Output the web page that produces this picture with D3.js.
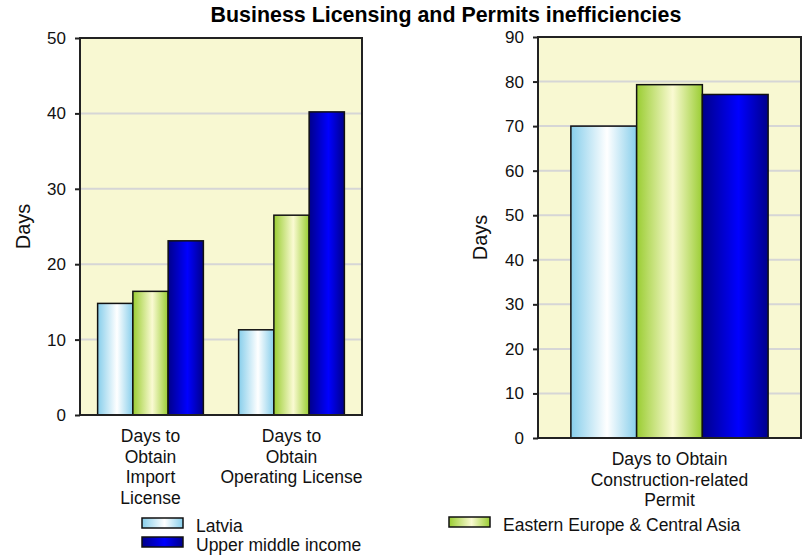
<!DOCTYPE html>
<html>
<head>
<meta charset="utf-8">
<script src="https://cdn.jsdelivr.net/npm/d3@7/dist/d3.min.js"></script>
<style>
  html, body { margin: 0; padding: 0; background: #fff; }
  svg { display: block; }
</style>
</head>
<body>
<svg id="chart" width="806" height="557"></svg>
<script>
// Series names and their two-chart values (days)
const seriesNames = ["Latvia", "Eastern Europe & Central Asia", "Upper middle income"];

const leftCategories = ["Days to\nObtain\nImport\nLicense", "Days to\nObtain\nOperating License"];
const leftLatvia = [14.8, 11.3];
const leftEECA = [16.4, 26.5];
const leftUMI = [23.1, 40.2];
const leftTicks = [0, 10, 20, 30, 40, 50];

const rightCategories = ["Days to Obtain\nConstruction-related\nPermit"];
const rightLatvia = [70];
const rightEECA = [79.3];
const rightUMI = [77.1];
const rightTicks = [0, 10, 20, 30, 40, 50, 60, 70, 80, 90];

const titleText = "Business Licensing and Permits inefficiencies";
const axisTitle = "Days";

// Bar fills: edge colour, centre highlight
const gradients = [
  { id: "g-latvia", edge: "#87CEEB", mid: "#ffffff" },
  { id: "g-eeca", edge: "#9ACD32", mid: "#FAFAD2" },
  { id: "g-umi", edge: "#00008B", mid: "#0000FF" }
];

const svg = d3.select("#chart");
const defs = svg.append("defs");
gradients.forEach(g => {
  const lg = defs.append("linearGradient").attr("id", g.id)
    .attr("x1", "0%").attr("x2", "100%").attr("y1", "0%").attr("y2", "0%");
  lg.append("stop").attr("offset", "0%").attr("stop-color", g.edge);
  lg.append("stop").attr("offset", "55%").attr("stop-color", g.mid);
  lg.append("stop").attr("offset", "100%").attr("stop-color", g.edge);
});

const FONT = "'Liberation Sans', Arial, sans-serif";

svg.append("text")
  .attr("x", 446).attr("y", 22)
  .attr("text-anchor", "middle")
  .attr("font-family", FONT)
  .attr("font-weight", "bold")
  .attr("font-size", 21.4)
  .attr("fill", "#000")
  .text(titleText);

function drawPanel(opts) {
  const { left, right, top, bottom, max, ticks, categories, values } = opts;
  const g = svg.append("g");

  const y = d3.scaleLinear().domain([0, max]).range([bottom, top]);
  const x0 = d3.scaleBand().domain(categories).range([left, right])
    .paddingInner(0.25).paddingOuter(0.125);
  const x1 = d3.scaleBand().domain(d3.range(seriesNames.length))
    .range([0, x0.bandwidth()]).padding(0);

  // plot background
  g.append("rect")
    .attr("x", left).attr("y", top)
    .attr("width", right - left).attr("height", bottom - top)
    .attr("fill", "#F8F8D2");

  // horizontal grid
  g.selectAll("line.grid")
    .data(ticks.filter(t => t > 0 && t < max))
    .join("line")
    .attr("class", "grid")
    .attr("x1", left).attr("x2", right)
    .attr("y1", d => y(d)).attr("y2", d => y(d))
    .attr("stroke", "#d6d6d6").attr("stroke-width", 2);

  // bars
  categories.forEach((c, ci) => {
    values.forEach((vals, si) => {
      g.append("rect")
        .attr("x", x0(c) + x1(si))
        .attr("y", y(vals[ci]))
        .attr("width", x1.bandwidth())
        .attr("height", y(0) - y(vals[ci]))
        .attr("fill", `url(#${gradients[si].id})`)
        .attr("stroke", "#111").attr("stroke-width", 1.5);
    });
  });

  // frame
  g.append("rect")
    .attr("x", left).attr("y", top)
    .attr("width", right - left).attr("height", bottom - top)
    .attr("fill", "none").attr("stroke", "#222").attr("stroke-width", 2);

  // y axis
  const ax = g.append("g")
    .attr("transform", `translate(${left},0)`)
    .call(d3.axisLeft(y).tickValues(ticks).tickSize(5).tickPadding(9).tickFormat(d3.format("d")));
  ax.select(".domain").remove();
  ax.selectAll(".tick line").attr("stroke", "#222").attr("stroke-width", 2);
  ax.selectAll(".tick text")
    .attr("font-family", FONT).attr("font-size", 17).attr("fill", "#111");

  // axis title
  g.append("text")
    .attr("transform", `translate(${opts.titleX},${(top + bottom) / 2}) rotate(-90)`)
    .attr("text-anchor", "middle")
    .attr("dominant-baseline", "central")
    .attr("font-family", FONT).attr("font-size", 20).attr("fill", "#111")
    .text(axisTitle);

  // category labels
  categories.forEach(c => {
    const t = g.append("text")
      .attr("text-anchor", "middle")
      .attr("font-family", FONT).attr("font-size", 17.5).attr("fill", "#111");
    c.split("\n").forEach((line, i) => {
      t.append("tspan")
        .attr("x", x0(c) + x0.bandwidth() / 2)
        .attr("y", bottom + 27 + i * 20.6)
        .text(line);
    });
  });
}

drawPanel({
  left: 80, right: 362, top: 38, bottom: 415, max: 50, ticks: leftTicks,
  categories: leftCategories, values: [leftLatvia, leftEECA, leftUMI], titleX: 23
});

drawPanel({
  left: 538, right: 801, top: 37, bottom: 438, max: 90, ticks: rightTicks,
  categories: rightCategories, values: [rightLatvia, rightEECA, rightUMI], titleX: 480
});

// legend
const legendItems = [
  { x: 142, y: 518, si: 0 },
  { x: 449, y: 517, si: 1 },
  { x: 142, y: 537, si: 2 }
];
const lg = svg.append("g");
legendItems.forEach(it => {
  lg.append("rect")
    .attr("x", it.x).attr("y", it.y).attr("width", 41).attr("height", 10)
    .attr("fill", `url(#${gradients[it.si].id})`)
    .attr("stroke", "#111").attr("stroke-width", 1.5);
  lg.append("text")
    .attr("x", it.x + 54).attr("y", it.y + 13.5)
    .attr("font-family", FONT).attr("font-size", 17.5).attr("fill", "#111")
    .text(seriesNames[it.si]);
});
</script>
</body>
</html>
